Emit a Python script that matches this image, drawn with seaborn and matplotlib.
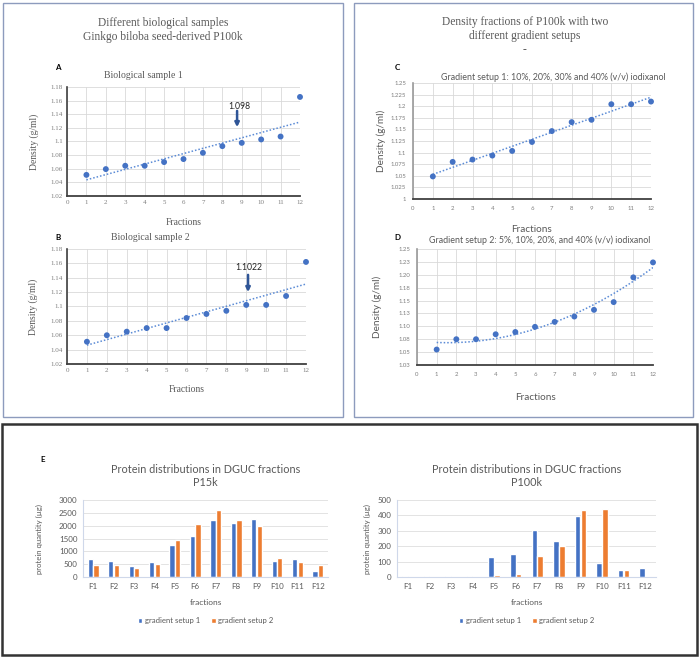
import numpy as np
import pandas as pd
import seaborn as sns
import matplotlib.pyplot as plt
from matplotlib.patches import Rectangle
from matplotlib.ticker import FuncFormatter

# density data (g/ml) per fraction
fractions = list(range(1, 13))
sample1 = [1.051, 1.0595, 1.0644, 1.0644, 1.0698, 1.0742, 1.0834, 1.0932, 1.098, 1.103, 1.1073, 1.1654]
sample2 = [1.051, 1.060, 1.065, 1.070, 1.070, 1.084, 1.0896, 1.094, 1.1022, 1.1022, 1.1146, 1.162]
setup1_density = [1.0486, 1.080, 1.085, 1.0936, 1.1036, 1.1229, 1.1464, 1.1657, 1.1707, 1.2043, 1.2043, 1.210]
setup2_density = [1.055, 1.075, 1.075, 1.0846, 1.089, 1.099, 1.1086, 1.119, 1.132, 1.147, 1.195, 1.224]
d_tick_labels = ["1.03", "1.05", "1.08", "1.10", "1.13", "1.15", "1.18", "1.20", "1.23", "1.25"]

# protein quantities (ug)
fraction_labels = ["F1", "F2", "F3", "F4", "F5", "F6", "F7", "F8", "F9", "F10", "F11", "F12"]
p15k_setup1 = [715, 634, 414, 569, 1255, 1604, 2212, 2095, 2277, 621, 686, 250]
p15k_setup2 = [453, 453, 336, 504, 1436, 2070, 2600, 2225, 1979, 737, 582, 479]
p100k_setup1 = [6, 6, 5, 6, 129, 149, 302, 237, 397, 91, 47, 56]
p100k_setup2 = [0, 0, 0, 0, 15, 17, 138, 203, 435, 444, 45, 0]
setups = ["gradient setup 1", "gradient setup 2"]

BLUE = "#4472C4"
ORANGE = "#ED7D31"
GREY = "#595959"
SERIF = ["Liberation Serif", "DejaVu Serif"]
SANS = ["Lato", "DejaVu Sans"]

sns.set_theme(style="white")
plt.rcParams["font.family"] = SANS

W, H = 699, 657
fig = plt.figure(figsize=(W / 100, H / 100), dpi=100)


def rect(x0, y0, x1, y1):
    return [x0 / W, 1 - y1 / H, (x1 - x0) / W, (y1 - y0) / H]


def ftext(x, y, s, **kw):
    fig.text(x / W, 1 - y / H, s, **kw)


def box(x0, y0, x1, y1, color, lw):
    fig.add_artist(Rectangle((x0 / W, 1 - y1 / H), (x1 - x0) / W, (y1 - y0) / H,
                             transform=fig.transFigure, fill=False, ec=color, lw=lw))


box(3, 3, 343, 417, "#8d9bbd", 1.0)
box(354, 3, 693, 417, "#8d9bbd", 1.0)
box(2, 424, 697, 655, "#333333", 1.8)


def density_panel(pos, y, ylim, yticks, order, family, tsize, lsize, xl_y, yl_x, left_col, ticklen):
    ax = fig.add_axes(pos)
    sns.regplot(x=fractions, y=y, ax=ax, scatter=False, ci=None, order=order,
                line_kws=dict(color="#5b8bd6", lw=1.1, ls=(0, (1, 1.3))))
    sns.scatterplot(x=fractions, y=y, ax=ax, color=BLUE, s=18, edgecolor="none",
                    zorder=3, clip_on=False)
    ax.set_xlim(0, 12)
    ax.set_ylim(*ylim)
    ax.set_xticks(range(13))
    ax.set_yticks(yticks)
    ax.yaxis.set_major_formatter(FuncFormatter(lambda v, p: f"{v:g}"))
    ax.grid(True, color="#d9d9d9", lw=0.6)
    ax.set_axisbelow(True)
    for s in ["top", "right"]:
        ax.spines[s].set_visible(False)
    ax.spines["left"].set_color(left_col)
    ax.spines["left"].set_linewidth(1.2)
    ax.spines["bottom"].set_color("#404040")
    ax.spines["bottom"].set_linewidth(1.3)
    ax.tick_params(length=ticklen, width=0.6, color="#808080", pad=3,
                   labelsize=tsize, labelcolor="#7f7f7f")
    for lab in ax.get_xticklabels() + ax.get_yticklabels():
        lab.set_family(family)
    ax.set_xlabel("Fractions", family=family, fontsize=lsize, color=GREY)
    ax.set_ylabel("Density (g/ml)", family=family, fontsize=lsize, color=GREY)
    ax.xaxis.set_label_coords(0.5, xl_y)
    ax.yaxis.set_label_coords(yl_x, 0.5)
    return ax


ab_ticks = [1.02 + 0.02 * i for i in range(9)]
cd_ticks = [1.0 + 0.025 * i for i in range(11)]

axA = density_panel(rect(67, 87, 300, 196), sample1, (1.02, 1.18), ab_ticks, 1,
                    SERIF, 5, 6.9, -0.20, -0.12, "#404040", 0)
axB = density_panel(rect(67, 249, 306, 364), sample2, (1.02, 1.18), ab_ticks, 1,
                    SERIF, 5, 6.9, -0.18, -0.12, "#404040", 0)
axC = density_panel(rect(413, 83, 651, 199), setup1_density, (1.0, 1.25), cd_ticks, 1,
                    SANS, 4.3, 7.2, -0.22, -0.115, "#9a9a9a", 2)
axD = density_panel(rect(417, 249, 653, 365), setup2_density, (1.025, 1.25), cd_ticks[1:], 2,
                    SANS, 4.3, 7.2, -0.24, -0.15, "#9a9a9a", 2)
axD.set_yticklabels(d_tick_labels, family=SANS)

arrow = dict(arrowstyle="-|>", color="#2f5597", lw=1.8, mutation_scale=6, shrinkA=0, shrinkB=0)
axA.annotate("", xy=(8.76, 1.121), xytext=(8.76, 1.145), arrowprops=arrow)
axA.text(8.9, 1.152, "1.098", ha="center", va="center", fontsize=6.2, family=SANS, color="#222222")
axB.annotate("", xy=(9.09, 1.120), xytext=(9.09, 1.144), arrowprops=arrow)
axB.text(9.15, 1.154, "1.1022", ha="center", va="center", fontsize=6.2, family=SANS, color="#222222")

ftext(163, 30, "Different biological samples\nGinkgo biloba seed-derived P100k", ha="center",
      va="center", family=SERIF, fontsize=8.3, color=GREY, linespacing=1.25)
ftext(525, 36, "Density fractions of P100k with two\ndifferent gradient setups\n-", ha="center",
      va="center", family=SERIF, fontsize=8.3, color=GREY, linespacing=1.2)
ftext(143, 76, "Biological sample 1", ha="center", va="center", family=SERIF, fontsize=7, color=GREY)
ftext(150, 238, "Biological sample 2", ha="center", va="center", family=SERIF, fontsize=7, color=GREY)
ftext(553, 77, "Gradient setup 1: 10%, 20%, 30% and 40% (v/v) iodixanol", ha="center",
      va="center", fontsize=6.4, color=GREY)
ftext(540, 240, "Gradient setup 2: 5%, 10%, 20%, and 40% (v/v) iodixanol", ha="center",
      va="center", fontsize=6.4, color=GREY)
for x, y, s in [(58, 68, "A"), (58, 238, "B"), (397, 67, "C"), (397, 238, "D"), (43, 460, "E")]:
    ftext(x, y, s, ha="center", va="center", fontsize=5.8, weight="bold", color="black")


def bar_panel(pos, q1, q2, ymax, step, title, yl_x):
    ax = fig.add_axes(pos)
    df = pd.DataFrame({"fraction": fraction_labels * 2, "quantity": q1 + q2,
                       "setup": [setups[0]] * 12 + [setups[1]] * 12})
    sns.barplot(data=df, x="fraction", y="quantity", hue="setup", palette=[BLUE, ORANGE],
                saturation=1, width=0.55, gap=0.06, ax=ax)
    ax.set_ylim(0, ymax)
    ax.set_yticks(np.arange(0, ymax + 1, step))
    ax.set_xlim(-0.5, 11.5)
    ax.grid(True, axis="y", color="#e3e3e3", lw=0.7)
    ax.set_axisbelow(True)
    for s in ["top", "right"]:
        ax.spines[s].set_visible(False)
    for s in ["left", "bottom"]:
        ax.spines[s].set_color("#cfd8ea")
        ax.spines[s].set_linewidth(0.8)
    ax.tick_params(length=0, pad=4, labelsize=5.8, labelcolor=GREY)
    ax.set_xlabel("fractions", fontsize=6, color=GREY)
    ax.set_ylabel("protein quantity (\u00b5g)", fontsize=5.6, color=GREY)
    ax.xaxis.set_label_coords(0.5, -0.29)
    ax.yaxis.set_label_coords(yl_x, 0.5)
    ax.legend(title=None, loc="center", bbox_to_anchor=(0.5, -0.57), ncol=2, frameon=False,
              fontsize=5.6, labelcolor=GREY, handlelength=0.6, handleheight=0.6,
              handletextpad=0.3, columnspacing=1.4)
    b = ax.get_position()
    fig.text(b.x0 + b.width / 2, 1 - 476 / H, title, ha="center", va="center",
             fontsize=7.8, color=GREY, linespacing=1.3)
    return ax


bar_panel(rect(83, 500, 328, 577), p15k_setup1, p15k_setup2, 3000, 500,
          "Protein distributions in DGUC fractions\nP15k", -0.165)
bar_panel(rect(397, 500, 656, 577), p100k_setup1, p100k_setup2, 500, 100,
          "Protein distributions in DGUC fractions\nP100k", -0.1)

fig.savefig("out.png", dpi=100)
